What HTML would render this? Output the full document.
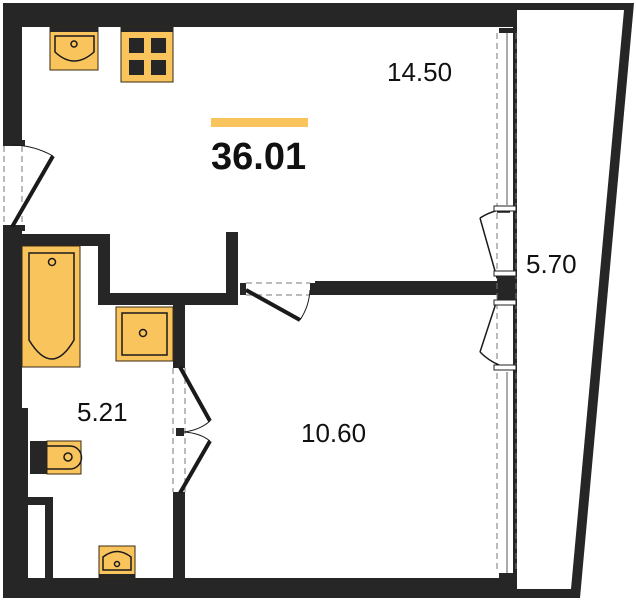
<!DOCTYPE html>
<html><head><style>body{margin:0;background:#fff}svg{display:block}text{font-family:"Liberation Sans",sans-serif;fill:#111}</style></head><body>
<svg width="636" height="600" viewBox="0 0 636 600">
<polygon points="513,3 634,3 580,598 513,598" fill="#262626"/>
<polygon points="517,10 624,10 571,589 517,589" fill="#fff"/>
<g fill="#262626">
<rect x="3" y="3" width="512" height="24"/>
<rect x="3" y="3" width="19" height="140"/>
<rect x="3" y="228" width="19" height="370"/>
<rect x="3" y="408" width="25" height="190"/>
<rect x="3" y="578" width="512" height="20"/>
<rect x="22" y="234" width="88" height="12"/>
<rect x="98" y="234" width="12" height="71"/>
<rect x="98" y="293" width="140" height="12"/>
<rect x="226" y="232" width="12" height="73"/>
<rect x="315" y="281" width="200" height="14"/>
<rect x="497" y="276" width="18" height="24"/>
<rect x="173" y="300" width="12" height="65"/>
<rect x="173" y="495" width="12" height="85"/>
<rect x="28" y="497" width="25" height="8"/>
<rect x="45" y="497" width="8" height="81"/>
<rect x="497" y="578" width="18" height="20"/>
<rect x="3" y="140" width="22" height="6"/><rect x="3" y="225" width="22" height="6"/>
<rect x="240" y="283" width="6" height="12"/><rect x="310" y="283" width="6" height="12"/>
<rect x="173" y="362" width="12" height="6"/><rect x="173" y="492" width="12" height="6"/>
<rect x="176" y="428" width="8" height="8"/>
<rect x="499" y="28" width="14" height="5"/><rect x="499" y="573" width="14" height="5"/>
</g>
<g stroke="#777" stroke-dasharray="6,4" fill="none" stroke-width="1">
<line x1="4" y1="146" x2="4" y2="225"/><line x1="22" y1="146" x2="22" y2="225"/>
<line x1="246" y1="283" x2="310" y2="283"/><line x1="246" y1="295" x2="310" y2="295"/>
<line x1="173" y1="368" x2="173" y2="492"/><line x1="185" y1="368" x2="185" y2="492"/>
<line x1="497" y1="33" x2="497" y2="573"/><line x1="516" y1="33" x2="516" y2="573"/>
</g>
<line x1="507" y1="33" x2="507" y2="205" stroke="#555" stroke-width="1"/>
<line x1="507" y1="372" x2="507" y2="573" stroke="#555" stroke-width="1"/>
<g stroke="#1a1a1a" fill="none">
<line x1="12" y1="227" x2="53" y2="156" stroke-width="4"/>
<path d="M53,156 A85,85 0 0 0 12,145" stroke-width="1"/>
<line x1="246" y1="290" x2="300" y2="320" stroke-width="4"/>
<path d="M300,320 A60,60 0 0 0 310,290" stroke-width="1"/>
<line x1="180" y1="367" x2="210" y2="421" stroke-width="4"/>
<line x1="180" y1="493" x2="210" y2="441" stroke-width="4"/>
<path d="M210,421 Q200,430 184,432 M210,441 Q200,433 184,432" stroke-width="1"/>
<path d="M497,212 L510,212 M480,218 L497,278 M480,218 A60,60 0 0 1 499,210" stroke-width="1.5"/>
<path d="M497,300 L480,352 M480,352 A60,60 0 0 0 499,365" stroke-width="1.5"/>
</g>
<g fill="#fff" stroke="#222"><rect x="494" y="206" width="22" height="5"/><rect x="494" y="271" width="22" height="5"/><rect x="494" y="300" width="22" height="5"/><rect x="494" y="365" width="22" height="5"/></g>
<g stroke="#3a2a10" stroke-width="1" fill="#f9c45c">
<rect x="50" y="27" width="48" height="43"/>
<rect x="121" y="27" width="52" height="55"/>
<rect x="22" y="246" width="58" height="121"/>
<rect x="116" y="307" width="57" height="54"/>
<rect x="47" y="441" width="34" height="33"/>
<rect x="99" y="546" width="36" height="32"/>
</g>
<g fill="#262626"><rect x="50" y="27" width="48" height="5"/><rect x="121" y="27" width="52" height="5"/>
<rect x="129" y="38" width="15" height="15"/><rect x="151" y="38" width="15" height="15"/><rect x="129" y="60" width="15" height="15"/><rect x="151" y="60" width="15" height="15"/>
<rect x="30" y="441" width="17" height="33"/><rect x="99" y="574" width="36" height="4"/></g>
<g fill="none" stroke="#1a1a1a" stroke-width="1.5">
<path d="M55,36 L94,36 L94,52 Q74,70 55,52 Z"/><circle cx="74" cy="44" r="3"/>
<path d="M29,253 L74,253 L74,340 Q52,378 29,340 Z"/><circle cx="52" cy="262" r="3.5"/>
<rect x="122" y="313" width="45" height="42"/><circle cx="143" cy="333" r="3.5"/>
<path d="M47,446 L70,446 A11,11 0 0 1 70,469 L47,469"/><circle cx="68" cy="457" r="4"/>
<path d="M103,570 L103,557 Q117,546 131,557 L131,570 Z"/><circle cx="117" cy="564" r="2.5"/>
</g>
<rect x="211" y="118" width="97" height="9" fill="#f9c45c"/>
<text x="211" y="169" font-size="38" font-weight="bold">36.01</text>
<text x="387" y="81" font-size="26">14.50</text>
<text x="526" y="273" font-size="26">5.70</text>
<text x="301" y="442" font-size="26">10.60</text>
<text x="77" y="421" font-size="26">5.21</text>
</svg>
</body></html>
